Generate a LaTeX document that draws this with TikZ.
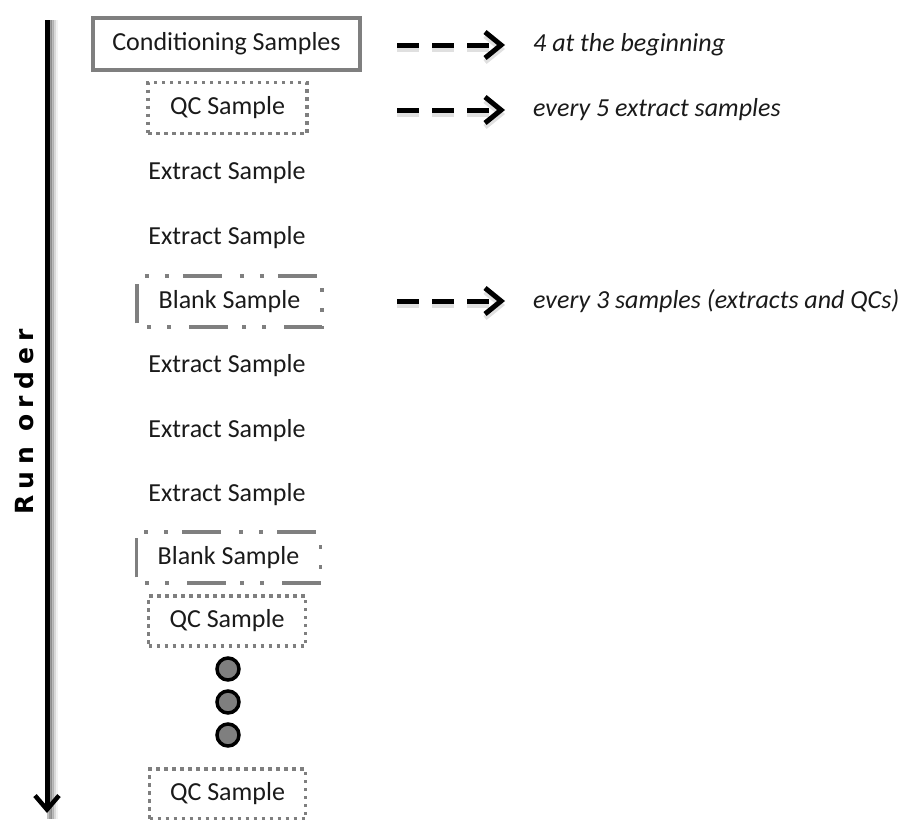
\documentclass[tikz,border=0pt]{standalone}
\usepackage{fontspec}
\setmainfont{Carlito}
\newfontfamily\runfont[LetterSpace=26]{DejaVu Sans Bold}
\usetikzlibrary{arrows.meta}
\definecolor{boxgray}{HTML}{7F7F7F}
\definecolor{txt}{HTML}{1A1A1A}
\tikzset{
  lbl/.style={font=\fontsize{26}{30}\selectfont, text=txt, inner sep=0pt},
  itl/.style={font=\fontsize{26}{30}\selectfont\itshape, text=txt, inner sep=0pt, anchor=west},
  solidbox/.style={lbl, draw=boxgray, line width=3.5pt},
  dotbox/.style={lbl, draw=boxgray, line width=3.5pt, dash pattern=on 3.5pt off 4.5pt},
  blankline/.style={draw=boxgray, line width=3.5pt, dash pattern=on 4pt off 16pt on 4pt off 14pt on 39pt off 18pt, dash phase=87pt},
  dot/.style={circle, draw=black, fill=boxgray, line width=3.5pt, minimum size=22pt, inner sep=0pt},
  darr/.style={line width=5pt, dash pattern=on 22pt off 13pt, -{Straight Barb[length=16pt,width=26pt,line width=5pt]}},
}
\begin{document}
\begin{tikzpicture}[x=1pt,y=-1pt]
\useasboundingbox (0,0) rectangle (901,819);
% main run-order arrow with soft shadow
\coordinate (top) at (47,20);
\coordinate (bot) at (47,813);
\foreach \d/\o in {2/0.25,4/0.18,6/0.10,8/0.05}{
  \draw[line width=5pt, black, opacity=\o] ([xshift=\d pt]top) -- ([xshift=\d pt, yshift=-6pt]bot);
}
\draw[line width=5pt, -{Straight Barb[length=14pt,width=24pt,line width=4.5pt]}] (top) -- (bot);
\node[rotate=90, font=\fontsize{25}{29}\selectfont\runfont, inner sep=0pt] (ro) at (24,422) {Run order};

% boxes
\node[solidbox, minimum width=267pt, minimum height=52pt] (cond) at (226.5,44) {Conditioning Samples};
\node[dotbox, minimum width=159pt, minimum height=51pt] (qc1) at (227.5,108) {QC Sample};
\node[lbl] (e1) at (227,173) {Extract Sample};
\node[lbl] (e2) at (227,238) {Extract Sample};
\node[lbl, minimum width=185pt, minimum height=51pt] (b1) at (229.5,301.5) {Blank Sample};
\draw[blankline] (b1.north west) -- (b1.north east) -- (b1.south east) -- (b1.south west) -- cycle;
\node[lbl] (e3) at (227,366) {Extract Sample};
\node[lbl] (e4) at (227,431) {Extract Sample};
\node[lbl] (e5) at (227,495) {Extract Sample};
\node[lbl, minimum width=184pt, minimum height=51pt] (b2) at (228.5,557.5) {Blank Sample};
\draw[blankline] (b2.north west) -- (b2.north east) -- (b2.south east) -- (b2.south west) -- cycle;
\node[dotbox, minimum width=157pt, minimum height=50pt] (qc2) at (227,621) {QC Sample};
\node[dot] (d1) at (228,669) {};
\node[dot] (d2) at (228,702) {};
\node[dot] (d3) at (228,735) {};
\node[dotbox, minimum width=156pt, minimum height=50pt] (qc3) at (227.5,794) {QC Sample};

% annotations
\node[itl] (t1) at (533,45) {4 at the beginning};
\node[itl] (t2) at (533,110) {every 5 extract samples};
\node[itl] (t3) at (533,301) {every 3 samples (extracts and QCs)};
\coordinate (a1s) at (397,45);  \coordinate (a1e) at (505,45);
\coordinate (a2s) at (397,110); \coordinate (a2e) at (505,110);
\coordinate (a3s) at (397,301); \coordinate (a3e) at (505,301);
\foreach \s/\e in {a1s/a1e,a2s/a2e,a3s/a3e}{
  \draw[darr, black, opacity=0.12] ([yshift=-4pt]\s) -- ([yshift=-4pt]\e);
  \draw[darr] (\s) -- (\e);
}
\end{tikzpicture}
\end{document}
